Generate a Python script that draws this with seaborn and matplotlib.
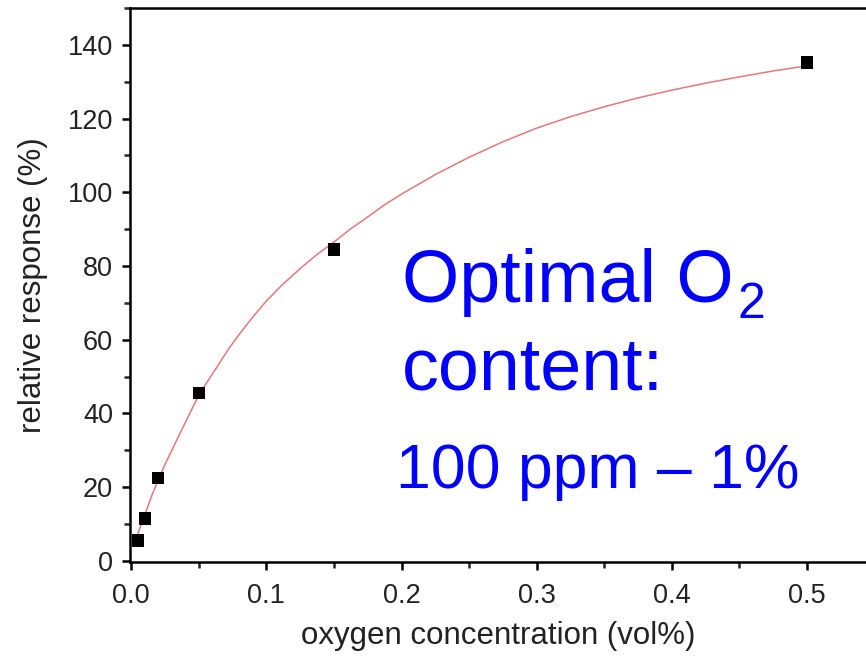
import matplotlib
matplotlib.use("Agg")
import matplotlib.pyplot as plt
import seaborn as sns
import pandas as pd
from matplotlib.ticker import MultipleLocator

sns.set_theme(style="white")
plt.rcParams['font.family'] = ['Liberation Sans', 'DejaVu Sans']

# measured points
conc = [0.005, 0.01, 0.02, 0.05, 0.15, 0.5]
response = [5.5, 11.5, 22.5, 45.5, 84.5, 135.2]

# fitted curve
fit_x = [0.004, 0.007, 0.01, 0.0125, 0.015, 0.0175, 0.02, 0.025, 0.03, 0.035, 0.04,
         0.045, 0.05, 0.057, 0.065, 0.072, 0.08, 0.09, 0.1, 0.112, 0.125, 0.137,
         0.15, 0.162, 0.175, 0.187, 0.2, 0.225, 0.25, 0.275, 0.3, 0.325, 0.35,
         0.375, 0.4, 0.425, 0.45, 0.475, 0.5]
fit_y = [6.5, 9.5, 12.5, 15.0, 17.5, 19.8, 22.0, 26.2, 30.0, 33.8, 37.5,
         41.3, 45.0, 49.0, 53.5, 57.5, 61.5, 66.2, 70.5, 75.0, 79.3, 83.0,
         86.5, 90.0, 93.3, 96.5, 99.5, 104.8, 109.5, 113.7, 117.4, 120.5, 123.2,
         125.6, 127.7, 129.6, 131.3, 132.9, 134.3]

x_ticks = [0.0, 0.1, 0.2, 0.3, 0.4, 0.5]
y_ticks = [0, 20, 40, 60, 80, 100, 120, 140]

pts = pd.DataFrame({"x": conc, "y": response})
fit = pd.DataFrame({"x": fit_x, "y": fit_y})

fig = plt.figure(figsize=(8.66, 6.6), dpi=100)
ax = fig.add_axes([0.150, 0.1485, 0.850, 0.8395])

sns.lineplot(data=fit, x="x", y="y", ax=ax, color="#e47878", lw=1.1, sort=True)
sns.scatterplot(data=pts, x="x", y="y", ax=ax, marker="s", s=80, color="black",
                edgecolor="none", zorder=5)

ax.set_xlim(-0.001, 0.5436)
ax.set_ylim(-0.3, 150)
ax.set_xticks(x_ticks)
ax.set_xticklabels([f"{v:.1f}" for v in x_ticks])
ax.set_yticks(y_ticks)
ax.set_yticklabels([str(v) for v in y_ticks])
ax.xaxis.set_minor_locator(MultipleLocator(0.05))
ax.yaxis.set_minor_locator(MultipleLocator(10))

for s in ["left", "bottom", "top"]:
    ax.spines[s].set_visible(True)
    ax.spines[s].set_color("black")
    ax.spines[s].set_linewidth(1.8)
ax.spines["right"].set_visible(False)

ax.tick_params(axis="both", which="major", direction="out", length=6, width=1.8,
               labelsize=19.5, colors="black",
               bottom=True, left=True, top=False, right=False)
ax.tick_params(axis="x", which="major", pad=9)
ax.tick_params(axis="y", which="major", pad=6)
ax.tick_params(axis="both", which="minor", direction="out", length=4, width=1.8,
               bottom=True, left=True, top=False, right=False)
for lab in ax.get_xticklabels() + ax.get_yticklabels():
    lab.set_color("#222222")

ax.set_xlabel("oxygen concentration (vol%)", fontsize=22.5, color="#222222", labelpad=9)
ax.set_ylabel("relative response (%)", fontsize=22.5, color="#222222", labelpad=14)

blue = "#0000ff"
fig.text(402 / 866, 1 - 302 / 660, "Optimal O", fontsize=53, color=blue,
         ha="left", va="baseline")
fig.text(738 / 866, 1 - 318 / 660, "2", fontsize=36, color=blue,
         ha="left", va="baseline")
fig.text(402 / 866, 1 - 390 / 660, "content:", fontsize=53, color=blue,
         ha="left", va="baseline")
fig.text(396 / 866, 1 - 488 / 660, "100 ppm \u2013 1%", fontsize=45, color=blue,
         ha="left", va="baseline")

fig.savefig("out.png", dpi=100, facecolor="white")
